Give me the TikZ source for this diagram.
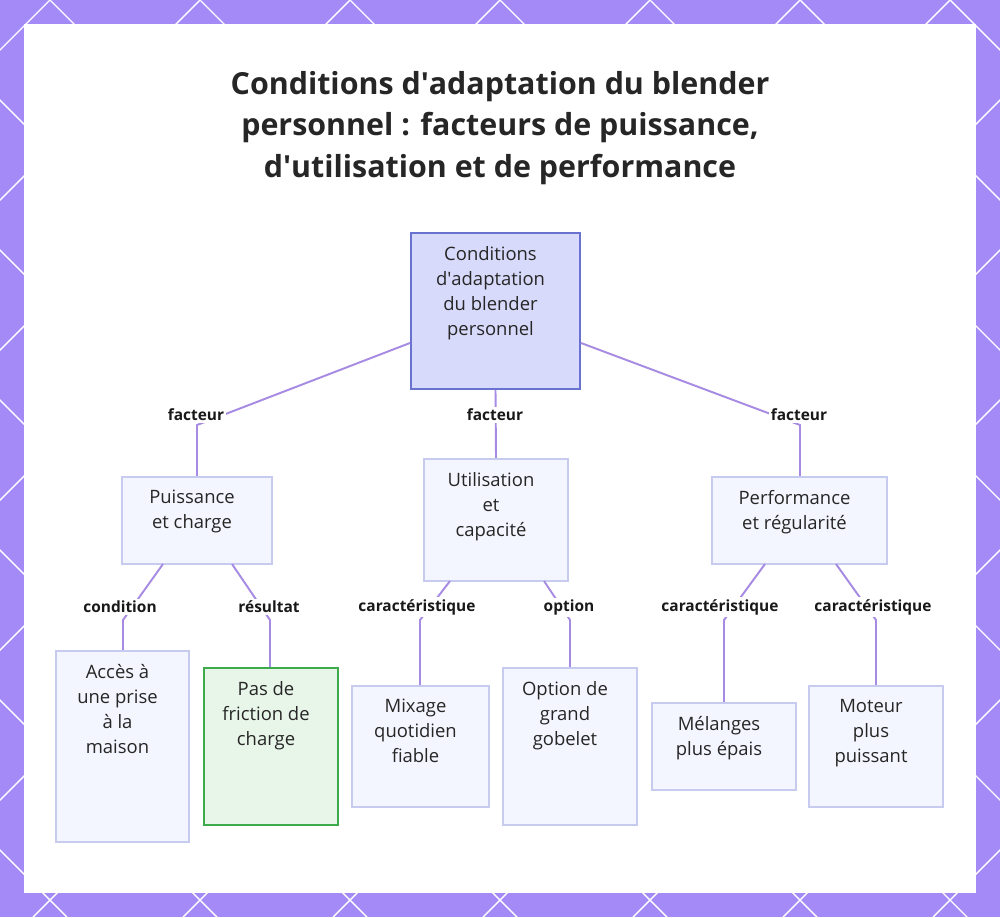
\documentclass[tikz,border=0pt]{standalone}
\usepackage{fontspec}
\setmainfont{Open Sans}
\newcommand\aq{\textquotesingle}
\begin{document}
\begin{tikzpicture}[x=0.02cm,y=-0.02cm,
 box/.style={draw=#1,line width=1.2pt,align=center,font=\fontsize{10.5}{14}\selectfont,text=black!85,inner sep=0pt},
 lab/.style={font=\bfseries\fontsize{8.8}{10}\selectfont,fill=white,inner sep=1pt,text=black!90},
 ed/.style={draw=edge,line width=1.1pt}]
\definecolor{frame}{HTML}{A48AF6}
\definecolor{edge}{HTML}{A78BE3}
\definecolor{rootf}{HTML}{D8DAFB}
\definecolor{rootd}{HTML}{6A72CF}
\definecolor{lf}{HTML}{F4F6FF}
\definecolor{ld}{HTML}{C6CBEF}
\definecolor{gf}{HTML}{E8F5E9}
\definecolor{gd}{HTML}{3DAA4C}
\useasboundingbox (0,0) rectangle (1000,917);
\fill[frame] (0,0) rectangle (1000,917);
\begin{scope}
\clip (0,0) rectangle (1000,917);
\foreach \s in {-1000,-850,...,2000}{
 \draw[white,line width=0.8pt] (\s,0) -- ++(917,917);
 \draw[white,line width=0.8pt] (\s,0) -- ++(-917,917);}
\end{scope}
\fill[white] (24,24) rectangle (976,893);
\node[font=\bfseries\fontsize{17.3}{23.5}\selectfont,align=center,text=black!85] (title) at (500,128)
 {Conditions d\aq adaptation du blender\\personnel : facteurs de puissance,\\d\aq utilisation et de performance};
\newcommand\bx[8]{\node[box=#7,fill=#8,minimum width={(#4-#2)*0.02cm},minimum height={(#5-#3)*0.02cm}] (#1) at ({(#2+#4)/2},{(#3+#5)/2}) {};
 \node[align=center,anchor=north,font=\fontsize{10.5}{14.2}\selectfont,text=black!85] at ({(#2+#4)/2-5},{#3+7}) {#6};}
\bx{root}{411}{233}{580}{389}{Conditions\\d\aq adaptation\\du blender\\personnel}{rootd}{rootf}
\bx{pui}{122}{477}{272}{564}{Puissance\\et charge}{ld}{lf}
\bx{uti}{424}{459}{568}{581}{Utilisation\\et\\capacité}{ld}{lf}
\bx{per}{712}{477}{887}{564}{Performance\\et régularité}{ld}{lf}
\bx{acc}{56}{651}{189}{842}{Accès à\\une prise\\à la\\maison}{ld}{lf}
\bx{pas}{204}{668}{338}{825}{Pas de\\friction de\\charge}{gd}{gf}
\bx{mix}{352}{686}{489}{807}{Mixage\\quotidien\\fiable}{ld}{lf}
\bx{opt}{503}{668}{637}{825}{Option de\\grand\\gobelet}{ld}{lf}
\bx{mel}{652}{703}{796}{790}{Mélanges\\plus épais}{ld}{lf}
\bx{mot}{809}{686}{943}{807}{Moteur\\plus\\puissant}{ld}{lf}
\coordinate (a1) at (197,425); \coordinate (a3) at (800,425);
\draw[ed] (root.west |- 0,343) -- (a1) -- (pui.north -| a1);
\draw[ed] (root.south) -- (uti.north);
\draw[ed] (root.east |- 0,343) -- (a3) -- (per.north -| a3);
\node[lab] at (196,415) {facteur};
\node[lab] at (495,415) {facteur};
\node[lab] at (799,415) {facteur};
\coordinate (b1) at (123,620); \coordinate (b2) at (270,620);
\coordinate (b3) at (420,620); \coordinate (b4) at (570,620);
\coordinate (b5) at (724,620); \coordinate (b6) at (876,620);
\draw[ed] (163,564) -- (b1) -- (acc.north -| b1);
\draw[ed] (232,564) -- (b2) -- (pas.north -| b2);
\draw[ed] (450,581) -- (b3) -- (mix.north -| b3);
\draw[ed] (544,581) -- (b4) -- (opt.north -| b4);
\draw[ed] (765,564) -- (b5) -- (mel.north -| b5);
\draw[ed] (836,564) -- (b6) -- (mot.north -| b6);
\node[lab] at (120,607) {condition};
\node[lab] at (269,607) {résultat};
\node[lab] at (417,607) {caractéristique};
\node[lab] at (569,607) {option};
\node[lab] at (720,607) {caractéristique};
\node[lab] at (873,607) {caractéristique};
\end{tikzpicture}
\end{document}
